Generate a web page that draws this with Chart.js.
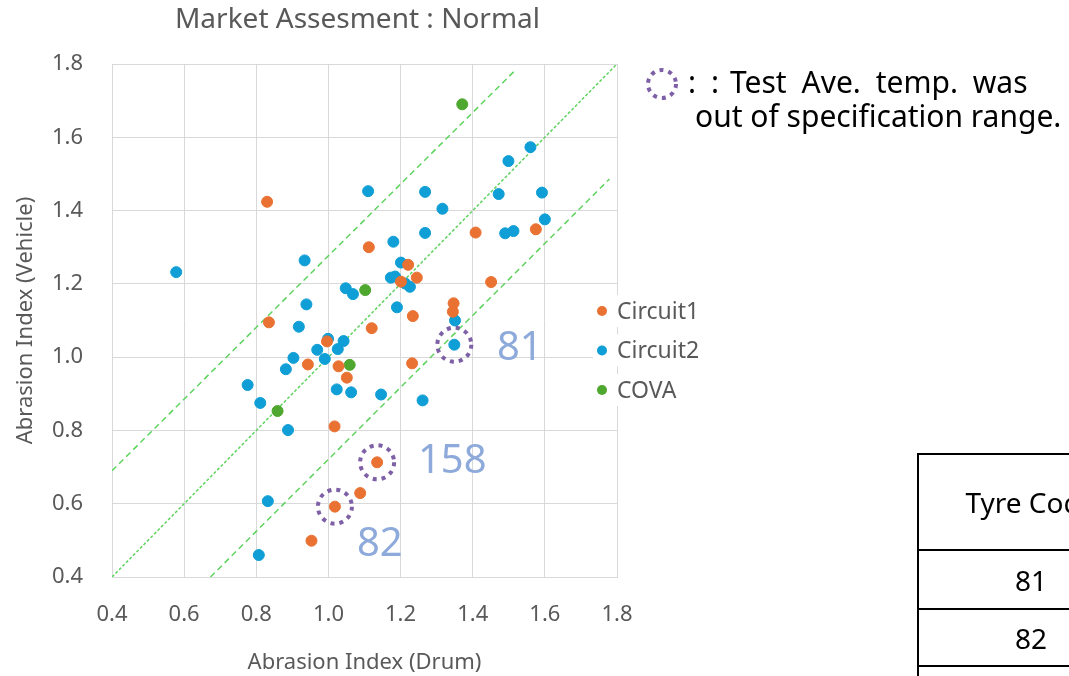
<!DOCTYPE html>
<html>
<head>
<meta charset="utf-8">
<script src="https://cdn.jsdelivr.net/npm/chart.js@4"></script>
<style>
  body { margin: 0; background: #fff; }
  #wrap { position: relative; width: 1069px; height: 676px; overflow: hidden; }
  #spec { position: absolute; left: 917px; top: 453px; width: 228px; table-layout: fixed;
          border-collapse: collapse; font-family: "Noto Sans", sans-serif; font-size: 28px; color: #000; }
  #spec td { border: 2px solid #000; text-align: center; padding: 0; white-space: nowrap; }
</style>
</head>
<body>
<div id="wrap">
  <canvas id="chart" width="1069" height="676"></canvas>
  <table id="spec">
    <tr><td style="height:94px">Tyre Code</td></tr>
    <tr><td style="height:57px">81</td></tr>
    <tr><td style="height:55px">82</td></tr>
    <tr><td style="height:40px"></td></tr>
  </table>
</div>
<script>
// values (drum index, vehicle index)
const circuit1Drum    = [0.83, 0.835, 0.943, 0.996, 1.028, 1.051, 1.017, 1.112, 1.12, 1.221, 1.201, 1.245, 1.234, 1.232, 1.347, 1.345, 1.408, 1.451, 1.575, 1.135, 1.088, 1.018, 0.953];
const circuit1Vehicle = [1.424, 1.095, 0.98, 1.043, 0.975, 0.944, 0.811, 1.30, 1.079, 1.252, 1.206, 1.217, 1.112, 0.983, 1.147, 1.124, 1.340, 1.205, 1.349, 0.713, 0.629, 0.592, 0.499];

const circuit2Drum    = [0.578, 0.934, 1.048, 1.068, 0.939, 1.56, 1.499, 1.11, 1.268, 1.472, 1.592, 1.316, 1.60, 1.268, 1.49, 1.513, 1.18, 1.201, 1.173, 1.185, 1.213, 1.226, 1.19, 1.351, 1.349, 0.918, 0.999, 1.042, 0.969, 1.026, 0.903, 0.99, 0.882, 1.023, 1.063, 1.146, 1.261, 0.776, 0.811, 0.888, 0.832, 0.807];
const circuit2Vehicle = [1.232, 1.264, 1.188, 1.172, 1.144, 1.573, 1.535, 1.453, 1.451, 1.445, 1.449, 1.405, 1.376, 1.339, 1.338, 1.344, 1.315, 1.258, 1.217, 1.22, 1.201, 1.192, 1.136, 1.10, 1.034, 1.083, 1.05, 1.044, 1.02, 1.022, 0.998, 0.995, 0.967, 0.912, 0.904, 0.898, 0.882, 0.924, 0.875, 0.801, 0.607, 0.46];

const covaDrum    = [1.371, 1.102, 1.059, 0.859];
const covaVehicle = [1.69, 1.183, 0.979, 0.853];

// guide lines (start / end points)
const equalLine = [[0.4, 0.4], [1.8, 1.8]];
const upperLine = [[0.4, 0.69], [1.52, 1.785]];
const lowerLine = [[0.673, 0.40], [1.779, 1.486]];

// tyres whose test temperature was out of range
const flaggedCodes   = ['81', '158', '82'];
const flaggedDrum    = [1.349, 1.135, 1.018];
const flaggedVehicle = [1.034, 0.713, 0.592];
const flagLabelDrum    = [1.467, 1.248, 1.079];
const flagLabelVehicle = [1.022, 0.714, 0.488];

const axisTicks = [0.4, 0.6, 0.8, 1.0, 1.2, 1.4, 1.6, 1.8];

const seriesNames  = ['Circuit1', 'Circuit2', 'COVA'];
const seriesColors = ['#E97132', '#0F9ED5', '#4EA72E'];

const FONT = '"Noto Sans", sans-serif';
const GREY = '#595959';

function toPoints(xs, ys) {
    return xs.map((x, i) => ({ x: x, y: ys[i] }));
}

function guide(pts, dash) {
    return {
        type: 'line',
        data: pts.map(p => ({ x: p[0], y: p[1] })),
        borderColor: '#5FD35F',
        borderWidth: 1.5,
        borderDash: dash,
        pointRadius: 0,
        fill: false,
        order: 5
    };
}

function dots(label, xs, ys, color) {
    return {
        label: label,
        data: toPoints(xs, ys),
        backgroundColor: color,
        borderColor: color,
        pointRadius: 5.5,
        pointHoverRadius: 5.5,
        order: 1
    };
}

function dottedRing(ctx, x, y, r) {
    ctx.save();
    ctx.strokeStyle = '#7E60A6';
    ctx.lineWidth = 4;
    ctx.setLineDash([4, 5]);
    ctx.beginPath();
    ctx.arc(x, y, r, 0, Math.PI * 2);
    ctx.stroke();
    ctx.restore();
}

// words drawn one after another with a little extra gap
function spacedText(ctx, words, x, y, extra) {
    const space = ctx.measureText(' ').width + extra;
    words.forEach(w => {
        ctx.fillText(w, x, y);
        x += ctx.measureText(w).width + space;
    });
}

const extras = {
    id: 'extras',
    afterDatasetsDraw(chart) {
        const ctx = chart.ctx;
        const xs = chart.scales.x, ys = chart.scales.y;
        const area = chart.chartArea;

        // title
        ctx.save();
        ctx.fillStyle = GREY;
        ctx.font = '28px ' + FONT;
        ctx.textAlign = 'center';
        ctx.textBaseline = 'middle';
        ctx.fillText('Market Assesment : Normal', (area.left + area.right) / 2 - 7, 20);

        // rings + codes
        flaggedCodes.forEach((code, i) => {
            dottedRing(ctx, xs.getPixelForValue(flaggedDrum[i]), ys.getPixelForValue(flaggedVehicle[i]), 17);
            ctx.fillStyle = '#8EAADB';
            ctx.font = '40px ' + FONT;
            ctx.textAlign = 'left';
            ctx.fillText(code, xs.getPixelForValue(flagLabelDrum[i]), ys.getPixelForValue(flagLabelVehicle[i]));
        });

        // legend
        seriesNames.forEach((name, i) => {
            const y = 311 + i * 39.5;
            ctx.fillStyle = '#fff';
            ctx.fillRect(593, y - 16, 115, 32);
            ctx.fillStyle = seriesColors[i];
            ctx.beginPath();
            ctx.arc(602, y, 5, 0, Math.PI * 2);
            ctx.fill();
            ctx.fillStyle = GREY;
            ctx.font = '23px ' + FONT;
            ctx.textAlign = 'left';
            ctx.fillText(name, 617, y + 1);
        });

        // note
        dottedRing(ctx, 662, 84, 14);
        ctx.fillStyle = '#000';
        ctx.font = '30px ' + FONT;
        ctx.textAlign = 'left';
        ctx.fillText(':', 688, 84);
        ctx.fillText(':', 711, 84);
        spacedText(ctx, ['Test', 'Ave.', 'temp.', 'was'], 730, 84, 7);
        ctx.fillText('out of specification range.', 695, 118);
        ctx.restore();
    }
};

const axisCommon = {
    min: 0.4,
    max: 1.8,
    grid: { color: '#D9D9D9', drawTicks: false },
    border: { color: '#D9D9D9' },
    afterBuildTicks: s => { s.ticks = axisTicks.map(v => ({ value: v })); },
    ticks: {
        color: GREY,
        font: { family: FONT, size: 22 },
        callback: v => v.toFixed(1)
    }
};

new Chart(document.getElementById('chart'), {
    type: 'scatter',
    data: {
        datasets: [
            dots(seriesNames[0], circuit1Drum, circuit1Vehicle, seriesColors[0]),
            dots(seriesNames[1], circuit2Drum, circuit2Vehicle, seriesColors[1]),
            dots(seriesNames[2], covaDrum, covaVehicle, seriesColors[2]),
            guide(equalLine, [3, 2]),
            guide(upperLine, [6, 4]),
            guide(lowerLine, [6, 4])
        ]
    },
    options: {
        responsive: false,
        animation: false,
        layout: { padding: { left: 0, top: 64, right: 452, bottom: 0 } },
        plugins: { legend: { display: false }, tooltip: { enabled: false } },
        scales: {
            x: Object.assign({}, axisCommon, {
                afterFit: s => { s.height = 99; },
                ticks: Object.assign({}, axisCommon.ticks, { padding: 25 }),
                title: { display: true, text: 'Abrasion Index (Drum)', color: GREY,
                         font: { family: FONT, size: 22 }, padding: { bottom: 0 } }
            }),
            y: Object.assign({}, axisCommon, {
                afterFit: s => { s.width = 112; },
                ticks: Object.assign({}, axisCommon.ticks, { padding: 29 }),
                title: { display: true, text: 'Abrasion Index (Vehicle)', color: GREY,
                         font: { family: FONT, size: 22 }, padding: { top: 13 } }
            })
        }
    },
    plugins: [extras]
});
</script>
</body>
</html>
